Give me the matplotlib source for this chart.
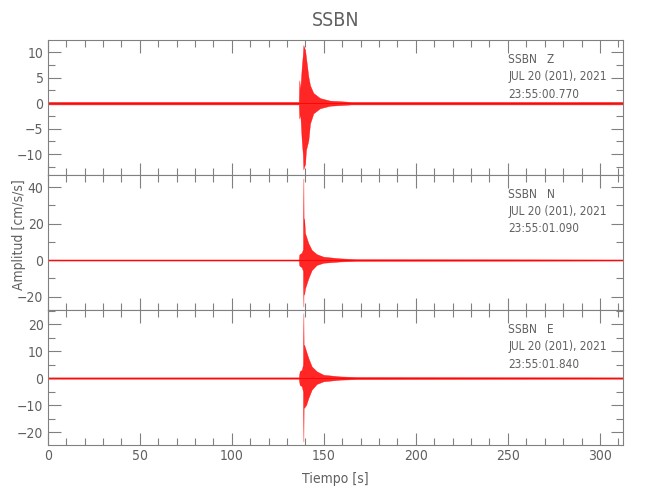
import numpy as np
import matplotlib
matplotlib.use('Agg')
import matplotlib.pyplot as plt
from matplotlib.ticker import MultipleLocator
from matplotlib import font_manager

# narrow font if one is around, like the SAC plot
narrow = [f.name for f in font_manager.fontManager.ttflist
          if 'narrow' in f.name.lower() or f.stretch in ('condensed', 'semi-condensed')]
if narrow:
    plt.rcParams['font.family'] = [narrow[0], 'DejaVu Sans']
    plt.rcParams['font.stretch'] = 'condensed'
else:
    plt.rcParams['font.family'] = ['Liberation Sans', 'DejaVu Sans']

# envelope of each trace (time in s, amplitude in cm/s/s)
z_time = [0, 136.4, 136.7, 137.2, 138.0, 138.6, 138.9, 139.2, 139.8, 140.3, 141.6, 142.5, 144.3, 147.9, 153.3, 165, 312.7]
z_upper = [0.25, 0.25, 4.5, 2.5, 7.0, 9.5, 11.4, 11.0, 10.5, 9.0, 5.2, 3.5, 2.0, 1.0, 0.5, 0.25, 0.25]
z_lower = [-0.25, -0.25, -3.0, -2.0, -7.3, -10, -13.0, -12.5, -12.0, -9.2, -7.3, -4.0, -2.0, -1.0, -0.5, -0.25, -0.25]

n_time = [0, 136.4, 136.7, 138.0, 138.7, 138.9, 139.1, 139.3, 139.8, 141.6, 143.4, 146.1, 149.8, 158.8, 167.8, 312.7]
n_upper = [0.3, 0.3, 3.0, 4.0, 6.0, 44.7, 6.0, 22.8, 14.7, 9.2, 5.5, 3.2, 1.8, 0.9, 0.5, 0.3]
n_lower = [-0.3, -0.3, -3.0, -4.0, -6.0, -25.5, -6.0, -19.0, -15.5, -10.0, -5.5, -2.7, -1.5, -0.8, -0.5, -0.3]

e_time = [0, 136.4, 136.9, 138.0, 138.7, 138.9, 139.1, 139.3, 140.4, 141.6, 143.4, 146.1, 149.8, 158.8, 167.8, 312.7]
e_upper = [0.25, 0.25, 2.5, 3.0, 5.0, 24.0, 5.0, 12.3, 9.9, 7.4, 4.3, 2.5, 1.2, 0.6, 0.4, 0.25]
e_lower = [-0.25, -0.25, -2.5, -3.0, -5.0, -23.5, -5.0, -11.0, -9.9, -7.4, -4.3, -2.2, -1.2, -0.6, -0.4, -0.25]

components = ['Z', 'N', 'E']
start_times = ['23:55:00.770', '23:55:01.090', '23:55:01.840']
station = 'SSBN'
date_label = 'JUL 20 (201), 2021'
y_limits = [(-14.1, 12.4), (-27.4, 46.6), (-24.8, 25.2)]
y_major = [5, 20, 10]
y_minor = [2.5, 10, 5]

traces = [(z_time, z_upper, z_lower), (n_time, n_upper, n_lower), (e_time, e_upper, e_lower)]

gray = '#606060'
fs = 10 if narrow else 9
note_fs = fs - 1.5
fig = plt.figure(figsize=(6.5, 5), dpi=100)
fig.text(0.516, 0.958, station, ha='center', va='center', fontsize=fs + 4, color=gray)

panel_edges = [(0.92, 0.65), (0.65, 0.38), (0.38, 0.11)]
axes = []
for i in range(3):
    top, bottom = panel_edges[i]
    ax = fig.add_axes([0.0734, bottom, 0.8855, top - bottom])
    t, up, lo = traces[i]
    ax.fill_between(t, lo, up, color='red', alpha=0.85, linewidth=0.3, edgecolor='red')
    ax.plot([0, 312.7], [0, 0], color='red', linewidth=0.6)
    ax.set_xlim(0, 312.7)
    ax.set_ylim(*y_limits[i])
    ax.xaxis.set_major_locator(MultipleLocator(50))
    ax.xaxis.set_minor_locator(MultipleLocator(10))
    ax.yaxis.set_major_locator(MultipleLocator(y_major[i]))
    ax.yaxis.set_minor_locator(MultipleLocator(y_minor[i]))
    ax.tick_params(which='both', direction='in', top=True, right=True, colors='#808080',
                   labelsize=fs, labelcolor=gray, width=0.8, pad=3)
    ax.tick_params(which='major', length=9)
    ax.tick_params(which='minor', length=5)
    for s in ax.spines.values():
        s.set_color('#808080')
        s.set_linewidth(0.8)
    if i < 2:
        ax.tick_params(labelbottom=False)
    ax.text(0.80, 0.852, station + '   ' + components[i], transform=ax.transAxes,
            fontsize=note_fs, color=gray, va='center')
    ax.text(0.80, 0.726, date_label, transform=ax.transAxes, fontsize=note_fs, color=gray, va='center')
    ax.text(0.80, 0.60, start_times[i], transform=ax.transAxes, fontsize=note_fs, color=gray, va='center')
    axes.append(ax)

axes[2].set_xlabel('Tiempo [s]', fontsize=fs, color=gray, labelpad=6)
fig.text(0.030, 0.53, 'Amplitud [cm/s/s]', rotation=90, ha='center', va='center', fontsize=fs, color=gray)

fig.savefig('out.png', dpi=100)
